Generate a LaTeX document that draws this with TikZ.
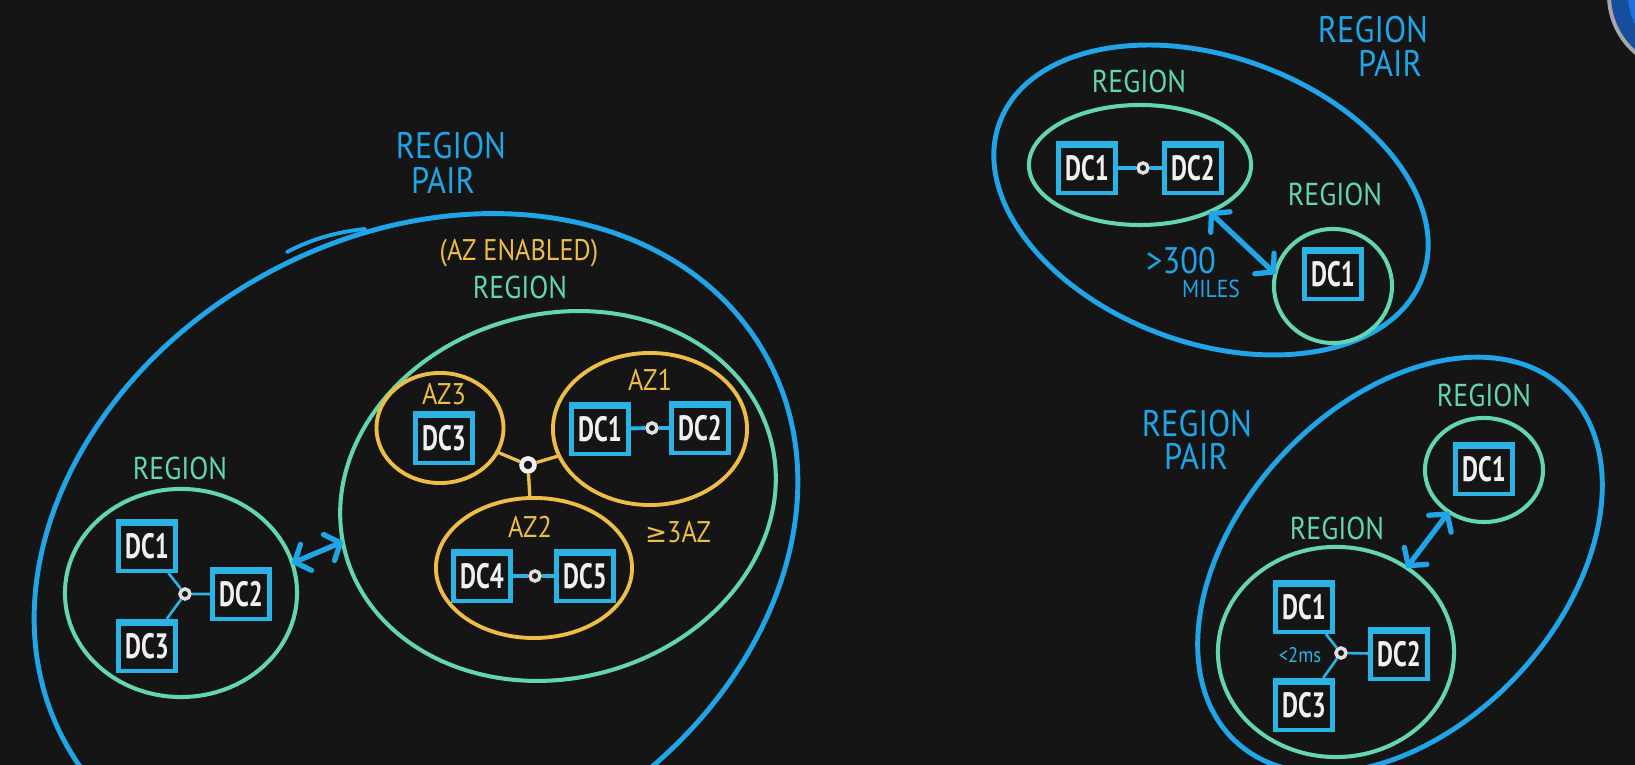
\documentclass[tikz,border=0pt]{standalone}
\usepackage{fontspec}
\setmainfont{PT Sans}
\newfontfamily\handfont[FakeStretch=0.88]{PT Sans}
\newfontfamily\dcfont[FakeStretch=0.7]{PT Sans Bold}
\newfontfamily\symfont{DejaVu Sans}
\usetikzlibrary{arrows.meta,shapes.geometric}
\definecolor{BoardBg}{HTML}{151515}
\definecolor{PairBlue}{HTML}{1FA5E8}
\definecolor{RegionGreen}{HTML}{63D5B0}
\definecolor{ZoneYellow}{HTML}{EEBD47}
\definecolor{DcBlue}{HTML}{2BB3E6}
\definecolor{InkWhite}{HTML}{F0F0F0}
\definecolor{CornerBlue}{HTML}{1E6FE0}

\begin{document}
\begin{tikzpicture}[x=0.01cm, y=-0.01cm,
  pairring/.style={draw=PairBlue, line width=1.4pt, ellipse, inner sep=0pt, outer sep=0pt},
  regionring/.style={draw=RegionGreen, line width=1.15pt, ellipse, inner sep=0pt, outer sep=0pt},
  zonering/.style={draw=ZoneYellow, line width=1.1pt, ellipse, inner sep=0pt, outer sep=0pt},
  dcbox/.style={draw=DcBlue, line width=1.2pt, fill=BoardBg, minimum width=0.57cm, minimum height=0.5cm,
    inner sep=0pt, text=InkWhite, font=\dcfont\fontsize{10}{10}\selectfont,
    path picture={\draw[DcBlue, line width=2.6pt] (path picture bounding box.north west) -- (path picture bounding box.north east);}},
  hubdot/.style={circle, draw=InkWhite, fill=BoardBg, line width=1.3pt, minimum size=0.13cm, inner sep=0pt},
  smalldot/.style={circle, draw=InkWhite!85!gray, fill=BoardBg, line width=1pt, minimum size=0.1cm, inner sep=0pt},
  dclink/.style={DcBlue, line width=1.1pt},
  spoke/.style={DcBlue, line width=0.75pt},
  zonelink/.style={ZoneYellow, line width=0.95pt},
  pairlink/.style={PairBlue, line width=1.5pt, line cap=round,
    {Straight Barb[length=3.5pt,width=8pt,round]}-{Straight Barb[length=3.5pt,width=8pt,round]}},
  pairtext/.style={text=PairBlue, inner sep=0pt, font=\handfont\fontsize{10.5}{10.5}\selectfont},
  regiontext/.style={text=RegionGreen, inner sep=0.5pt, font=\handfont\fontsize{9}{9}\selectfont},
  zonetext/.style={text=ZoneYellow, inner sep=0.5pt, font=\handfont\fontsize{8.5}{8.5}\selectfont}]
  \useasboundingbox (0,0) rectangle (1635,765);
  \clip (0,0) rectangle (1635,765);
  \fill[BoardBg] (0,0) rectangle (1635,765);
  \fill[gray!70] (1685,-5) circle (78);                   % overlay in the corner
  \fill[CornerBlue!70!black] (1685,-5) circle (74);
  \fill[CornerBlue] (1692,-5) circle (64);

  % left region pair
  \node[pairring, minimum width=8cm, minimum height=6.28cm, rotate=29] (lpair) at (416,550) {};
  \draw[PairBlue, line width=1.1pt, line cap=round] (287,252) .. controls (310,240) and (335,232) .. (365,229);
  \node[pairtext] (lpairt) at (451,146) {REGION};
  \node[pairtext] (lpairp) at (443,180) {PAIR};

  \node[regionring, minimum width=2.32cm, minimum height=2.08cm] (lreg) at (181,593) {};
  \node[regiontext] (lregt) at (180,468) {REGION};
  \node[dcbox] (ldc1) at (147,546) {DC1};
  \node[dcbox] (ldc2) at (241,594) {DC2};
  \node[dcbox] (ldc3) at (147,646) {DC3};
  \node[smalldot] (lhub) at (185,594) {};
  \draw[spoke] (ldc1) -- (lhub) -- (ldc2) (ldc3) -- (lhub);

  \node[regionring, minimum width=4.4cm, minimum height=3.64cm, rotate=15] (azreg) at (558,496) {};
  \node[zonetext] (azon) at (519,253) {(AZ ENABLED)};
  \node[regiontext] (azregt) at (520,287) {REGION};
  \draw[pairlink] (lreg.15) -- (azreg.177);

  \node[zonering, minimum width=1.27cm, minimum height=1.1cm] (az3) at (440,428) {};
  \node[zonering, minimum width=1.94cm, minimum height=1.52cm] (az1) at (650,429) {};
  \node[zonering, minimum width=1.96cm, minimum height=1.4cm] (az2) at (534,568) {};
  \node[zonetext] (az3t) at (444,394) {AZ3};
  \node[zonetext] (az1t) at (650,380) {AZ1};
  \node[zonetext] (az2t) at (530,527) {AZ2};
  \node[zonetext] (azmin) at (678,532) {{\symfont\fontsize{7.5}{7.5}\selectfont ≥}3AZ};
  \node[hubdot] (azhub) at (528,465) {};
  \draw[zonelink] (azhub) -- (az3) (azhub) -- (az1) (azhub) -- (az2);
  \node[dcbox] (az3dc3) at (444,438) {DC3};
  \node[dcbox] (az1dc1) at (600,429) {DC1};
  \node[dcbox] (az1dc2) at (700,428) {DC2};
  \node[smalldot] (az1dot) at (652,428) {};
  \draw[dclink] (az1dc1) -- (az1dot) -- (az1dc2);
  \node[dcbox] (az2dc4) at (482,576) {DC4};
  \node[dcbox] (az2dc5) at (585,576) {DC5};
  \node[smalldot] (az2dot) at (535,576) {};
  \draw[dclink] (az2dc4) -- (az2dot) -- (az2dc5);

  % top right region pair
  \node[pairring, minimum width=4.5cm, minimum height=2.86cm, rotate=-20] (tpair) at (1211,200) {};
  \node[pairtext] (tpairt) at (1373,30) {REGION};
  \node[pairtext] (tpairp) at (1390,63) {PAIR};
  \node[regionring, minimum width=2.22cm, minimum height=1.2cm] (treg) at (1140,165) {};
  \node[regiontext] (tregt) at (1139,81) {REGION};
  \node[dcbox] (tdc1) at (1087,168) {DC1};
  \node[dcbox] (tdc2) at (1193,168) {DC2};
  \node[smalldot] (tdot) at (1143,168) {};
  \draw[dclink] (tdc1) -- (tdot) -- (tdc2);
  \node[regionring, minimum width=1.18cm, minimum height=1.14cm] (tsolo) at (1333,286) {};
  \node[regiontext] (tsolot) at (1335,194) {REGION};
  \node[dcbox] (tsdc1) at (1333,274) {DC1};
  \draw[pairlink] (treg.326) -- (tsolo.168);
  \node[text=PairBlue, inner sep=0pt, font=\handfont\fontsize{10.5}{10.5}\selectfont] (tdist) at (1181,261) {>300};
  \node[text=PairBlue, inner sep=0pt, font=\handfont\fontsize{7}{7}\selectfont] (tmiles) at (1211,289) {MILES};

  % bottom right region pair
  \node[pairring, minimum width=4.82cm, minimum height=3.22cm, rotate=47] (bpair) at (1400,565) {};
  \node[pairtext] (bpairt) at (1197,424) {REGION};
  \node[pairtext] (bpairp) at (1196,456) {PAIR};
  \node[regionring, minimum width=1.18cm, minimum height=1.04cm] (bsolo) at (1484,470) {};
  \node[regiontext] (bsolot) at (1484,395) {REGION};
  \node[dcbox] (bsdc1) at (1484,469) {DC1};
  \node[regionring, minimum width=2.36cm, minimum height=2.1cm] (blow) at (1336,652) {};
  \node[regiontext] (blowt) at (1337,528) {REGION};
  \node[dcbox] (bdc1) at (1304,607) {DC1};
  \node[dcbox] (bdc2) at (1399,654) {DC2};
  \node[dcbox] (bdc3) at (1304,705) {DC3};
  \node[smalldot] (bhub) at (1341,653) {};
  \draw[spoke] (bdc1) -- (bhub) -- (bdc2) (bdc3) -- (bhub);
  \node[text=DcBlue, inner sep=0.5pt, font=\handfont\fontsize{6}{6}\selectfont] (blat) at (1300,655) {<2ms};
  \draw[pairlink] (blow.50) -- (bsolo.230);
\end{tikzpicture}
\end{document}
